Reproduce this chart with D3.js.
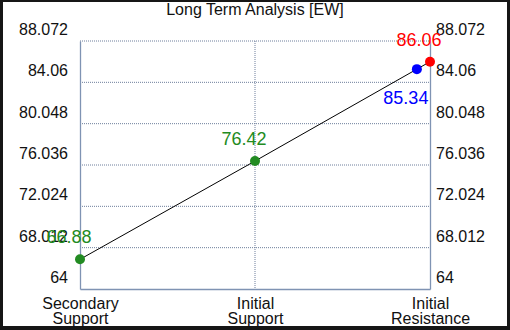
<!DOCTYPE html>
<html>
<head>
<meta charset="utf-8">
<script src="https://cdn.jsdelivr.net/npm/d3@7"></script>
<style>
  body { margin: 0; background: #161616; }
  svg { display: block; font-family: "Liberation Sans", Arial, sans-serif; }
</style>
</head>
<body>
<div id="chart"></div>
<script>
var W = 510, H = 330;
var margin = {top: 41, right: 80, bottom: 41, left: 80},
  width = W - margin.left - margin.right,
  height = H - margin.top - margin.bottom;

// data
var categories = ['Secondary Support', 'Initial Support', 'Initial Resistance'];
var yTicks = [64, 68.012, 72.024, 76.036, 80.048, 84.06, 88.072];
// x position in category units, value, label colour
var pointPos = [0, 1, 1.925, 2];
var pointVals = [66.88, 76.42, 85.34, 86.06];
var pointColors = ['#228b22', '#228b22', '#0000ff', '#ff0000'];

var svg = d3.select('#chart').append('svg')
  .attr('width', W).attr('height', H);

svg.append('rect')
  .attr('x', 3).attr('y', 2)
  .attr('width', W - 6).attr('height', H - 6)
  .attr('fill', '#fff');

var g = svg.append('g')
  .attr('transform', 'translate(' + margin.left + ',' + margin.top + ')');

var x = d3.scaleLinear().domain([0, categories.length - 1]).range([0, width]);
var y = d3.scaleLinear().domain([yTicks[0], yTicks[yTicks.length - 1]]).range([height, 0]);

// grid
g.selectAll('.hgrid')
  .data(yTicks.slice(1))
  .enter().append('line')
    .attr('x1', 0).attr('x2', width)
    .attr('y1', d => y(d)).attr('y2', d => y(d))
    .attr('stroke', '#6e7f9c').attr('stroke-dasharray', '1,1');

g.selectAll('.vgrid')
  .data(d3.range(1, categories.length - 1))
  .enter().append('line')
    .attr('x1', d => x(d)).attr('x2', d => x(d))
    .attr('y1', 0).attr('y2', height)
    .attr('stroke', '#6e7f9c').attr('stroke-dasharray', '1,1');

// axes
var leftAxis = g.append('g')
  .call(d3.axisLeft(y).tickValues(yTicks).tickSize(0).tickPadding(12).tickFormat(d => d3.format('')(d)));
var rightAxis = g.append('g')
  .attr('transform', 'translate(' + width + ',0)')
  .call(d3.axisRight(y).tickValues(yTicks).tickSize(0).tickPadding(6).tickFormat(d => d3.format('')(d)));
var bottomAxis = g.append('g')
  .attr('transform', 'translate(0,' + height + ')')
  .call(d3.axisBottom(x).tickValues(d3.range(categories.length)).tickSize(0).tickFormat(() => ''));

[leftAxis, rightAxis, bottomAxis].forEach(function(a) {
  a.select('.domain').attr('stroke', '#7f93b3').attr('stroke-width', 1.3);
  a.selectAll('text').attr('font-size', 16).attr('fill', '#111')
    .attr('font-family', '"Liberation Sans", Arial, sans-serif');
});
leftAxis.selectAll('text').attr('dy', '-0.4em');
rightAxis.selectAll('text').attr('dy', '-0.4em');

// category labels, two lines
bottomAxis.selectAll('.tick').each(function(d) {
  var words = categories[d].split(' ');
  var t = d3.select(this).append('text')
    .attr('text-anchor', 'middle')
    .attr('font-size', 16).attr('fill', '#111')
    .attr('font-family', '"Liberation Sans", Arial, sans-serif');
  words.forEach(function(w, i) {
    t.append('tspan').attr('x', 0).attr('y', 20 + i * 15).text(w);
  });
});

// line
var line = d3.line()
  .x((d, i) => x(pointPos[i]))
  .y(d => y(d));
g.append('path')
  .datum(pointVals)
  .attr('d', line)
  .attr('fill', 'none')
  .attr('stroke', '#000')
  .attr('stroke-width', 1);

// points
g.selectAll('.pt')
  .data(pointVals)
  .enter().append('circle')
    .attr('cx', (d, i) => x(pointPos[i]))
    .attr('cy', d => y(d))
    .attr('r', 5)
    .attr('fill', (d, i) => pointColors[i]);

// value labels
var labelOffsets = [[-11, -16], [-11, -16], [-11, 35], [-11, -16]];
g.selectAll('.vlab')
  .data(pointVals)
  .enter().append('text')
    .attr('x', (d, i) => x(pointPos[i]) + labelOffsets[i][0])
    .attr('y', (d, i) => y(d) + labelOffsets[i][1])
    .attr('text-anchor', 'middle')
    .attr('font-size', 18)
    .attr('fill', (d, i) => pointColors[i])
    .text(d => d3.format('.2f')(d));

// title
svg.append('text')
  .attr('x', 255).attr('y', 15)
  .attr('text-anchor', 'middle')
  .attr('font-size', 16)
  .attr('fill', '#111')
  .text('Long Term Analysis [EW]');
</script>
</body>
</html>
